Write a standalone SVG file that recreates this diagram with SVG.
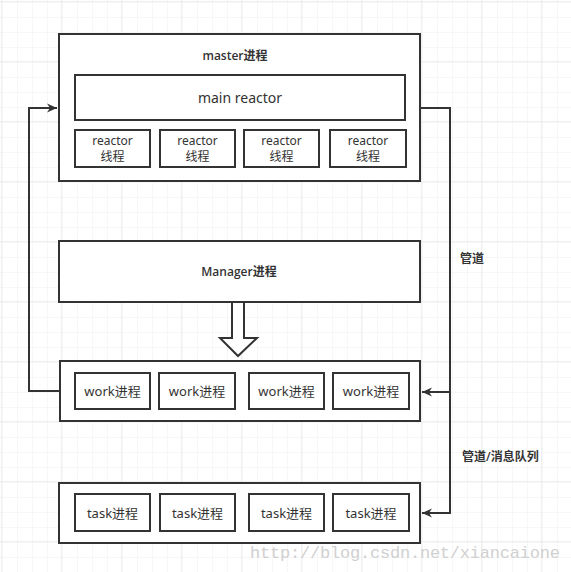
<svg xmlns="http://www.w3.org/2000/svg" width="571" height="572" viewBox="0 0 571 572">
<defs>
<pattern id="gs" x="1" y="1" width="15" height="15" patternUnits="userSpaceOnUse">
<path d="M0 0H15M0 0V15" fill="none" stroke="#f0f0f0" stroke-width="1"/>
</pattern>
<pattern id="gl" x="1" y="1" width="60" height="60" patternUnits="userSpaceOnUse">
<rect width="60" height="60" fill="url(#gs)"/>
<path d="M0 0H60M0 0V60" fill="none" stroke="#e2e2e2" stroke-width="1"/>
</pattern>
<marker id="ah" markerWidth="10" markerHeight="10" refX="10" refY="5" orient="auto" markerUnits="userSpaceOnUse">
<path d="M0 0.5L10 5L0 9.5L3 5Z" fill="#333"/>
</marker>
<style>
.box{fill:#fff;stroke:#333;stroke-width:2}
.t{font-family:"Noto Sans","Noto Sans CJK SC",sans-serif;fill:#333;text-anchor:middle}
.s{font-size:13px}
.r{font-size:12px}
.b{font-family:"Open Sans","Noto Sans CJK SC",sans-serif;font-size:12px;font-weight:600}
.c{fill:none;stroke:#333;stroke-width:2}
.lbl{font-family:"Open Sans","Noto Sans CJK SC",sans-serif;fill:#333;font-size:12px;font-weight:600}
</style>
</defs>
<rect x="0" y="0" width="571" height="572" fill="#fff"/>
<rect x="0" y="0" width="571" height="572" fill="url(#gl)"/>

<g id="connectors">
<path class="c" d="M60 391H29V108H57" marker-end="url(#ah)"/>
<path class="c" d="M421 108H450V513H422" marker-end="url(#ah)"/>
<path class="c" d="M450 392H422" marker-end="url(#ah)"/>
<path d="M232 302V338H220L238 356L257 338H244V302" fill="#fff" stroke="#333" stroke-width="2" stroke-linejoin="miter"/>
<text class="lbl" x="460" y="263">管道</text>
<text class="lbl" x="462" y="461">管道/消息队列</text>
</g>

<g id="master">
<rect class="box" x="59" y="34" width="361" height="147"/>
<text class="t b" x="235" y="60">master进程</text>
</g>
<g id="main-reactor">
<rect class="box" x="75" y="75" width="330" height="45"/>
<text class="t" x="240" y="103" font-size="14">main reactor</text>
</g>
<g id="reactor1">
<rect class="box" x="75" y="130" width="75" height="37"/>
<text class="t r" x="112.5" y="145">reactor</text>
<text class="t r" x="112.5" y="161">线程</text>
</g>
<g id="reactor2">
<rect class="box" x="160" y="130" width="75" height="37"/>
<text class="t r" x="197.5" y="145">reactor</text>
<text class="t r" x="197.5" y="161">线程</text>
</g>
<g id="reactor3">
<rect class="box" x="244" y="130" width="75" height="37"/>
<text class="t r" x="281.5" y="145">reactor</text>
<text class="t r" x="281.5" y="161">线程</text>
</g>
<g id="reactor4">
<rect class="box" x="330" y="130" width="76" height="37"/>
<text class="t r" x="368" y="145">reactor</text>
<text class="t r" x="368" y="161">线程</text>
</g>

<g id="manager">
<rect class="box" x="59" y="241" width="361" height="61"/>
<text class="t b" x="239" y="276">Manager进程</text>
</g>

<g id="work">
<rect class="box" x="60" y="361" width="360" height="60"/>
</g>
<g id="work1"><rect class="box" x="75" y="373" width="75" height="36"/><text class="t s" x="112.5" y="396">work进程</text></g>
<g id="work2"><rect class="box" x="159" y="373" width="76" height="36"/><text class="t s" x="197" y="396">work进程</text></g>
<g id="work3"><rect class="box" x="249" y="373" width="75" height="36"/><text class="t s" x="286.5" y="396">work进程</text></g>
<g id="work4"><rect class="box" x="333" y="373" width="76" height="36"/><text class="t s" x="371" y="396">work进程</text></g>

<g id="task">
<rect class="box" x="59" y="483" width="361" height="60"/>
</g>
<g id="task1"><rect class="box" x="75" y="494" width="75" height="37"/><text class="t s" x="112.5" y="518">task进程</text></g>
<g id="task2"><rect class="box" x="160" y="494" width="75" height="37"/><text class="t s" x="197.5" y="518">task进程</text></g>
<g id="task3"><rect class="box" x="249" y="494" width="75" height="37"/><text class="t s" x="286.5" y="518">task进程</text></g>
<g id="task4"><rect class="box" x="333" y="494" width="76" height="37"/><text class="t s" x="371" y="518">task进程</text></g>

<text x="250" y="558" font-family="Liberation Mono, monospace" font-size="17" fill="#d0d0d0" textLength="310">http://blog.csdn.net/xiancaione</text>
</svg>
